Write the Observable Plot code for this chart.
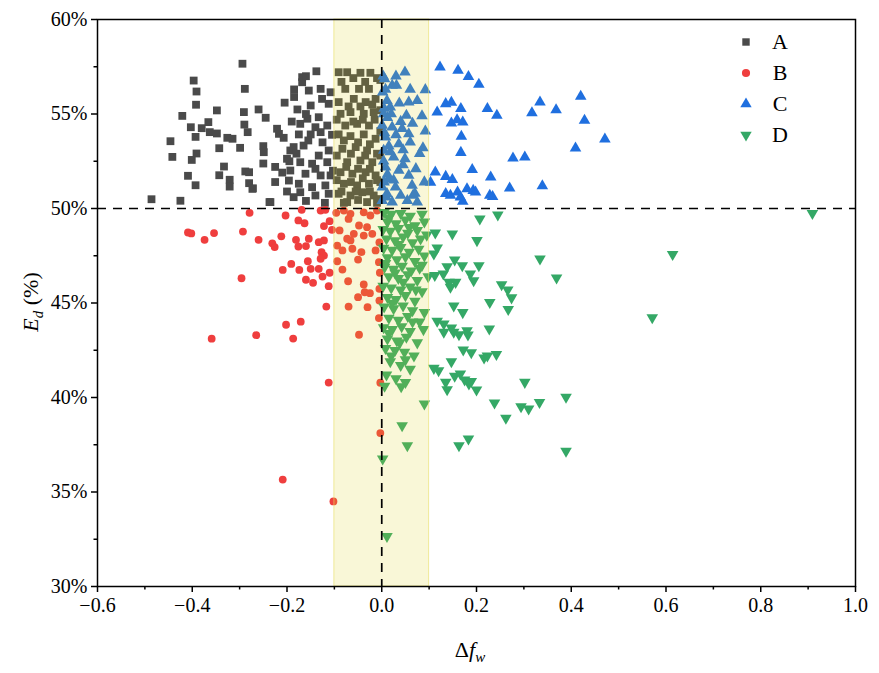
<!DOCTYPE html>
<html>
<head>
<meta charset="utf-8">
<script src="https://cdn.jsdelivr.net/npm/d3@7"></script>
<script src="https://cdn.jsdelivr.net/npm/@observablehq/plot@0.6"></script>
<style>
  html, body { margin: 0; padding: 0; background: #fff; }
  #chart { width: 879px; height: 673px; }
  #chart svg, #chart svg text { font-family: "Liberation Serif", "Tinos", "Times New Roman", "DejaVu Serif", serif !important; }
</style>
</head>
<body>
<div id="chart"></div>
<script>
// ---------- data: [Δf_w, E_d (%)] ----------
const groupA = [
  [-0.294,57.66],[-0.397,56.77],[-0.391,56.19],[-0.289,56.33],[-0.392,55.49],[-0.421,54.90],[-0.348,55.19],[-0.291,55.10],
  [-0.260,55.24],[-0.245,54.80],[-0.366,54.57],[-0.403,54.30],[-0.380,54.25],[-0.363,54.04],[-0.348,53.97],[-0.290,54.44],
  [-0.283,54.04],[-0.446,53.56],[-0.393,53.79],[-0.326,53.74],[-0.315,53.69],[-0.221,54.22],[-0.217,53.95],[-0.207,53.74],
  [-0.442,52.73],[-0.391,52.91],[-0.401,52.57],[-0.343,53.19],[-0.299,53.21],[-0.250,53.30],[-0.249,52.98],[-0.250,52.38],
  [-0.333,52.22],[-0.409,51.73],[-0.343,51.76],[-0.393,51.23],[-0.321,51.52],[-0.321,51.16],[-0.288,51.96],[-0.280,51.92],
  [-0.280,51.34],[-0.272,51.07],[-0.486,50.49],[-0.425,50.41],[-0.237,50.34],[-0.193,53.07],[-0.195,52.50],
  [-0.138,57.26],[-0.168,56.95],[-0.168,56.68],[-0.154,56.24],[-0.129,56.33],[-0.108,56.15],[-0.178,55.24],[-0.150,55.45],
  [-0.126,55.80],[-0.112,55.54],[-0.172,54.48],[-0.157,54.75],[-0.133,54.83],[-0.115,54.39],[-0.175,53.92],[-0.150,53.92],
  [-0.129,54.04],[-0.186,53.25],[-0.165,53.33],[-0.133,52.80],[-0.112,53.07],[-0.200,52.63],[-0.172,52.45],[-0.147,52.37],
  [-0.115,52.45],[-0.193,52.01],[-0.161,51.84],[-0.129,51.75],[-0.108,51.75],[-0.196,51.48],[-0.175,51.31],[-0.147,51.13],
  [-0.119,51.22],[-0.172,50.86],[-0.140,50.69],[-0.112,50.78],[-0.186,50.60],[-0.235,50.34],[-0.273,51.04],
  [-0.205,55.6],[-0.185,55.9],[-0.16,55.0],[-0.14,54.3],[-0.19,54.6],[-0.125,53.5],[-0.155,53.6],[-0.18,52.9],[-0.14,52.1],
  [-0.21,51.9],[-0.16,50.4],[-0.12,50.3],[-0.2,50.9],[-0.225,52.2],[-0.105,53.9],[-0.103,52.0],[-0.185,56.3],[-0.225,51.4],[-0.16,57.0],
  [-0.091,57.21],[-0.073,57.21],[-0.045,57.18],[-0.024,57.18],[-0.077,56.33],[-0.048,56.33],[-0.027,56.33],[-0.091,55.63],
  [-0.059,55.80],[-0.034,55.63],[-0.013,55.80],[-0.087,55.01],[-0.066,55.10],[-0.038,55.01],[-0.017,55.10],[-0.077,54.39],
  [-0.052,54.48],[-0.027,54.39],[-0.091,53.92],[-0.066,53.83],[-0.038,53.92],[-0.013,53.69],[-0.083,53.16],[-0.055,53.25],
  [-0.031,53.07],[-0.073,52.45],[-0.045,52.54],[-0.020,52.45],[-0.087,51.92],[-0.062,51.84],[-0.034,51.92],[-0.013,51.75],
  [-0.080,51.31],[-0.052,51.22],[-0.027,51.31],[-0.091,50.78],[-0.066,50.69],[-0.041,50.86],[-0.017,50.69],[-0.073,50.34],[-0.031,50.34],
  [-0.003,56.8],[-0.003,55.2],[-0.003,54.1],[-0.003,52.8],[-0.003,51.4],[-0.003,50.5],
  [-0.085,56.7],[-0.06,56.9],[-0.035,56.7],[-0.01,56.9],[-0.07,55.4],[-0.045,55.4],[-0.02,55.5],[-0.095,54.7],[-0.06,54.6],
  [-0.04,54.7],[-0.015,54.7],[-0.08,53.6],[-0.05,53.5],[-0.025,53.4],[-0.095,52.8],[-0.065,52.9],[-0.035,52.8],[-0.01,52.9],
  [-0.075,52.2],[-0.05,52.1],[-0.025,52.1],[-0.095,51.5],[-0.065,51.4],[-0.04,51.6],[-0.01,51.5],[-0.085,50.9],[-0.055,50.9],
  [-0.025,50.9],[-0.08,50.3],[-0.05,50.45],[-0.01,50.3]
];
const groupB = [
  [-0.279,49.77],[-0.203,49.63],[-0.169,49.93],[-0.176,49.37],[-0.163,49.22],[-0.129,49.89],[-0.119,49.93],[-0.110,49.33],
  [-0.122,49.07],[-0.105,48.87],[-0.409,48.73],[-0.402,48.68],[-0.354,48.70],[-0.374,48.34],[-0.293,48.78],[-0.260,48.34],
  [-0.212,48.53],[-0.231,48.16],[-0.226,47.96],[-0.181,48.34],[-0.176,47.99],[-0.160,48.01],[-0.154,48.40],[-0.133,48.22],
  [-0.122,48.31],[-0.127,47.69],[-0.122,47.51],[-0.129,47.34],[-0.191,47.07],[-0.209,46.75],[-0.174,46.75],[-0.156,47.21],
  [-0.150,46.81],[-0.133,46.81],[-0.110,46.60],[-0.125,46.40],[-0.160,46.23],[-0.145,46.07],[-0.296,46.31],[-0.112,45.89],
  [-0.117,44.81],[-0.202,43.85],[-0.171,44.01],[-0.265,43.30],[-0.187,43.12],[-0.359,43.11],
  [-0.096,49.77],[-0.080,49.89],[-0.066,49.72],[-0.038,49.80],[-0.024,49.63],[-0.010,49.89],[-0.070,49.45],[-0.048,49.10],
  [-0.031,49.01],[-0.089,48.84],[-0.059,48.66],[-0.020,48.66],[-0.038,48.57],[-0.073,48.40],[-0.066,48.31],[-0.094,48.04],
  [-0.083,47.78],[-0.062,47.87],[-0.043,47.69],[-0.013,47.78],[-0.094,47.21],[-0.050,47.30],[-0.006,47.16],[-0.083,46.77],
  [-0.071,46.15],[-0.038,45.98],[-0.036,45.57],[-0.025,45.52],[-0.050,45.31],[-0.005,45.75],[-0.070,44.81],[-0.030,44.78],
  [-0.005,45.13],[-0.048,43.32],[-0.005,48.2],[-0.004,46.6],[-0.006,44.2],
  [-0.112,40.79],[-0.209,35.66],[-0.102,34.50],[-0.003,38.12],[-0.003,40.78]
];
const groupC = [
  [0.123,57.48],[0.161,57.30],[0.183,56.98],[0.205,56.56],[0.135,55.54],[0.147,55.61],[0.117,55.10],[0.167,55.28],[0.223,55.28],
  [0.243,54.92],[0.334,55.63],[0.317,55.06],[0.368,55.22],[0.420,55.93],[0.428,54.66],[0.471,53.67],[0.409,53.19],[0.147,54.52],
  [0.159,54.69],[0.171,54.57],[0.168,53.81],[0.167,52.96],[0.277,52.66],[0.302,52.72],[0.191,52.05],[0.113,51.92],[0.135,51.69],
  [0.149,51.52],[0.230,51.66],[0.339,51.20],[0.103,51.38],[0.270,51.07],[0.180,51.04],[0.193,50.95],[0.198,50.86],[0.135,50.78],
  [0.145,50.69],[0.160,50.86],[0.166,50.60],[0.171,50.37],[0.228,50.69],[0.234,50.63],
  [0.049,57.21],[0.006,56.86],[0.022,56.51],[0.031,56.51],[0.092,56.28],[0.002,56.15],[0.011,55.71],[0.037,55.57],[0.057,55.63],
  [0.052,54.92],[0.018,55.36],[0.004,55.01],[0.001,54.39],[0.022,54.30],[0.043,54.22],[0.092,54.09],[0.057,53.95],[0.008,53.77],
  [0.036,53.42],[0.060,53.51],[0.087,53.21],[0.004,53.07],[0.025,52.72],[0.049,52.63],[0.072,52.10],[0.008,52.19],[0.036,52.01],
  [0.057,51.75],[0.015,51.57],[0.001,51.13],[0.029,51.13],[0.064,51.22],[0.011,50.78],[0.040,50.69],[0.066,50.69],[0.075,50.34],
  [0.001,50.42],[0.022,50.34],[0.054,50.42],
  [0.003,57.0],[0.008,56.3],[0.005,55.3],[0.012,54.8],[0.006,54.0],[0.015,53.3],[0.004,52.5],[0.012,51.8],[0.005,51.4],[0.01,50.6],
  [0.02,55.0],[0.03,53.9],[0.018,53.0],[0.025,51.5],[0.045,52.3],[0.04,54.6],[0.065,54.5],[0.08,52.9],[0.09,51.4],[0.07,50.8],
  [0.03,57.0],[0.06,56.3],[0.075,55.7],[0.045,53.1],[0.085,54.9]
];
const groupD = [
  [0.201,48.31],[0.334,47.34],[0.369,46.33],[0.149,48.66],[0.117,47.92],[0.110,47.60],[0.154,47.28],[0.170,46.98],[0.138,46.93],
  [0.205,46.98],[0.112,46.46],[0.130,46.54],[0.142,46.10],[0.156,46.10],[0.145,45.84],[0.187,46.54],[0.194,46.19],[0.253,45.98],
  [0.266,45.70],[0.274,45.28],[0.228,45.03],[0.267,44.67],[0.152,44.85],[0.171,44.50],[0.227,43.63],[0.117,44.04],[0.131,43.90],
  [0.131,43.46],[0.147,43.69],[0.152,43.46],[0.163,43.33],[0.180,43.54],[0.182,43.32],[0.172,42.52],[0.189,42.38],[0.147,41.90],
  [0.216,42.10],[0.223,42.21],[0.242,42.28],[0.110,41.55],[0.120,41.43],[0.154,41.13],[0.166,41.25],[0.175,40.94],[0.184,40.72],
  [0.189,40.85],[0.200,40.41],[0.135,40.81],[0.138,40.42],[0.302,40.81],[0.389,40.02],[0.333,39.75],[0.294,39.52],[0.310,39.40],
  [0.238,39.72],[0.262,38.91],[0.183,37.81],[0.163,37.46],[0.389,37.16],
  [0.090,39.67],[0.054,37.46],[0.043,38.52],[0.041,40.58],[0.002,36.76],[0.011,32.66],
  [0.909,49.74],[0.614,47.57],[0.571,44.23],[0.245,49.67],[0.207,49.45],[0.113,48.71],
  [0.005,49.8],[0.02,49.7],[0.04,49.75],[0.06,49.6],[0.085,49.7],[0.012,49.3],[0.03,49.2],[0.05,49.4],[0.07,49.1],[0.09,49.3],
  [0.003,48.9],[0.018,48.8],[0.035,48.95],[0.055,48.7],[0.075,48.85],[0.095,48.6],[0.01,48.4],[0.028,48.3],[0.045,48.5],[0.065,48.2],[0.082,48.4],
  [0.004,47.9],[0.022,47.8],[0.04,47.95],[0.058,47.7],[0.078,47.85],[0.09,47.5],[0.012,47.4],[0.032,47.3],[0.05,47.45],[0.07,47.2],
  [0.006,46.9],[0.025,46.8],[0.043,46.95],[0.062,46.7],[0.08,46.85],[0.015,46.4],[0.035,46.3],[0.055,46.5],[0.075,46.2],[0.098,46.4],
  [0.003,45.9],[0.02,45.8],[0.04,45.7],[0.06,45.85],[0.085,45.6],[0.012,45.3],[0.03,45.2],[0.05,45.4],[0.07,45.1],
  [0.005,44.8],[0.025,44.7],[0.045,44.85],[0.065,44.6],[0.09,44.5],[0.015,44.2],[0.035,44.1],[0.055,44.3],[0.08,44.0],
  [0.004,43.7],[0.022,43.6],[0.042,43.75],[0.06,43.5],[0.012,43.1],[0.032,43.0],[0.052,43.2],[0.075,42.9],
  [0.008,42.6],[0.028,42.5],[0.048,42.4],[0.068,42.2],[0.018,41.9],[0.04,41.7],[0.06,41.5],[0.01,41.2],[0.03,41.0],[0.05,40.8],[0.006,40.6],
  [0.015,49.5],[0.035,48.1],[0.008,47.1],[0.045,46.1],[0.022,45.0],[0.065,44.0],[0.038,42.9],[0.02,42.2],[0.085,47.0],[0.088,43.6],
  [0.058,49.0],[0.028,46.6],[0.072,45.7],[0.015,43.4],[0.05,42.0]
];
const groupNames = ["A", "B", "C", "D"];
const groupColors = ["#4a4a4a", "#ef3e3e", "#1f6fdf", "#34a866"];
const xTicks = [-0.6, -0.4, -0.2, 0.0, 0.2, 0.4, 0.6, 0.8, 1.0];
const xMinorTicks = [-0.5, -0.3, -0.1, 0.1, 0.3, 0.5, 0.7, 0.9];
const yTicks = [30, 35, 40, 45, 50, 55, 60];
const yMinorTicks = [32.5, 37.5, 42.5, 47.5, 52.5, 57.5];
const band = [{x1: -0.1, x2: 0.1}];
const thresholdY = [50];
const thresholdX = [0];

const px = d => d[0], py = d => d[1];
const font = '"Liberation Serif", "Tinos", "Times New Roman", "DejaVu Serif", serif';

const chart = Plot.plot({
  width: 879,
  height: 673,
  marginLeft: 97,
  marginRight: 24,
  marginTop: 19,
  marginBottom: 87,
  style: {fontFamily: font, fontSize: "20px", color: "black", background: "white"},
  x: {domain: [-0.6, 1.0], label: null},
  y: {domain: [30, 60], label: null},
  marks: [
    Plot.dot(groupA, {x: px, y: py, symbol: "square", r: 4.4, fill: groupColors[0]}),
    Plot.dot(groupB, {x: px, y: py, symbol: "circle", r: 3.9, fill: groupColors[1]}),
    Plot.dot(groupC, {x: px, y: py, symbol: "triangle", r: 4.3, fill: groupColors[2]}),
    Plot.dot(groupD, {x: px, y: py, symbol: "triangle", rotate: 180, r: 4.3, fill: groupColors[3]}),
    Plot.rect(band, {x1: "x1", x2: "x2", fill: "#e0d020", fillOpacity: 0.18, stroke: "#e6dc60", strokeOpacity: 0.6, strokeWidth: 1}),
    Plot.ruleY(thresholdY, {stroke: "black", strokeWidth: 1.7, strokeDasharray: "9,7"}),
    Plot.ruleX(thresholdX, {stroke: "black", strokeWidth: 1.7, strokeDasharray: "9,7"}),
    Plot.axisX(xTicks, {tickFormat: d3.format(".1f"), tickSize: 6, tickPadding: 5, strokeWidth: 1.5, label: null}),
    Plot.axisX(xMinorTicks, {tickFormat: () => "", tickSize: 3.5, strokeWidth: 1.5, label: null}),
    Plot.axisY(yTicks, {tickFormat: d => d + "%", tickSize: 6, tickPadding: 4, strokeWidth: 1.5, label: null}),
    Plot.axisY(yMinorTicks, {tickFormat: () => "", tickSize: 3.5, strokeWidth: 1.5, label: null}),
    Plot.frame({stroke: "black", strokeWidth: 1.5})
  ]
});

document.getElementById("chart").appendChild(chart);

const svg = d3.select(chart);
// make sure the tick labels use the serif face at the reference size
svg.selectAll("text").style("font-family", font).style("font-size", "20px").attr("fill", "black");

// x axis title: Δf_w
const xt = svg.append("text")
  .attr("x", 470).attr("y", 657)
  .attr("text-anchor", "middle")
  .style("font-family", font).style("font-size", "22px").attr("fill", "black");
xt.append("tspan").text("Δ");
xt.append("tspan").style("font-style", "italic").text("f");
xt.append("tspan").style("font-style", "italic").style("font-size", "15px").attr("dy", 5).text("w");

// y axis title: E_d (%)
const yt = svg.append("text")
  .attr("transform", "translate(38,302) rotate(-90)")
  .attr("text-anchor", "middle")
  .style("font-family", font).style("font-size", "22px").attr("fill", "black");
yt.append("tspan").style("font-style", "italic").text("E");
yt.append("tspan").style("font-style", "italic").style("font-size", "15px").attr("dy", 5).text("d");
yt.append("tspan").attr("dy", -5).text(" (%)");

// legend inside the plot
const legendSymbols = [d3.symbolSquare, d3.symbolCircle, d3.symbolTriangle, d3.symbolTriangle];
const legendSizes = [55, 52, 56, 56];
const legendRot = [0, 0, 0, 180];
groupNames.forEach((name, i) => {
  const cy = 42 + i * 31;
  svg.append("path")
    .attr("d", d3.symbol(legendSymbols[i], legendSizes[i])())
    .attr("transform", `translate(746,${cy}) rotate(${legendRot[i]})`)
    .attr("fill", groupColors[i]);
  svg.append("text")
    .attr("x", 780).attr("y", cy + 7)
    .style("font-family", font).style("font-size", "22px").attr("fill", "black")
    .text(name);
});
</script>
</body>
</html>
